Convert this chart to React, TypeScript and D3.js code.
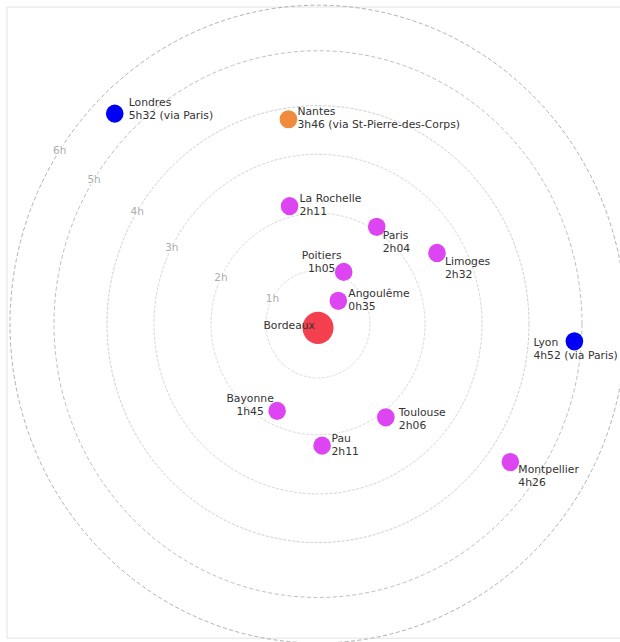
import React, { useEffect } from "react";
import * as d3 from "d3";

// ---- Data ----
const cities = [
  "Angoulême", "Poitiers", "La Rochelle", "Paris", "Limoges", "Nantes",
  "Londres", "Lyon", "Montpellier", "Bayonne", "Pau", "Toulouse",
];
const durations = [
  "0h35", "1h05", "2h11", "2h04", "2h32", "3h46",
  "5h32", "4h52", "4h26", "1h45", "2h11", "2h06",
];
const routes = [
  "", "", "", "", "", "via St-Pierre-des-Corps",
  "via Paris", "via Paris", "", "", "", "",
];
// direction from Bordeaux, degrees clockwise from east (screen)
const bearings = [-48, -63, -104, -58, -30, -98.5, -135, 3.7, 34.7, 116, 88, 53];
const origin = "Bordeaux";
const hourTicks = [1, 2, 3, 4, 5, 6];
const routeTypes = ["", "via St-Pierre-des-Corps", "via Paris"];

// ---- Layout (not data) ----
const W = 620;
const H = 620; // design space, stretched to 642 on screen
const SCREEN_H = 642;
const CX = 318;
const CY = 313;
const ORIGIN_DOT_DY = 3.6;
const ringRange = [0, 52, 107, 164, 211, 264, 308];
const ringLabelAngles = [29, 25, 27, 31, 32, 33];
const ringStrokes = ["#dcdcdc", "#dadada", "#d4d4d4", "#cdcdcd", "#bdbdbd", "#b0b0b0"];
// [dx, dy of first line center, anchor]
const labelLayout: [number, number, string][] = [
  [10, -7.4, "start"],
  [-22, -15.5, "middle"],
  [10, -7, "start"],
  [6, 8.1, "start"],
  [8, 8.1, "start"],
  [9, -7.4, "start"],
  [14, -11.2, "start"],
  [-41, 1.3, "start"],
  [8, 7.5, "start"],
  [-27, -12.2, "middle"],
  [9.4, -7.4, "start"],
  [13, -4.4, "start"],
];
const LINE_GAP = 12.6;
const FONT = "'DejaVu Sans', sans-serif";

function parseDuration(s: string): number {
  const [h, m] = s.split("h").map(Number);
  return h + m / 60;
}

export default function App() {
  useEffect(() => {
    document.body.style.margin = "0";
  }, []);

  const radius = d3.scaleLinear().domain(d3.range(0, 7)).range(ringRange);
  const color = d3
    .scaleOrdinal<string, string>()
    .domain(routeTypes)
    .range(["#dd45f2", "#f08b3d", "#0000f4"]);

  const points = cities.map((name, i) => {
    const hours = parseDuration(durations[i]);
    const a = (bearings[i] * Math.PI) / 180;
    const rr = radius(hours);
    return {
      name,
      label2: routes[i] ? `${durations[i]} (${routes[i]})` : durations[i],
      x: CX + rr * Math.cos(a),
      y: CY + rr * Math.sin(a),
      color: color(routes[i]),
      layout: labelLayout[i],
    };
  });

  return (
    <div style={{ position: "absolute", left: 0, top: 0 }}>
      <svg
        width={W}
        height={SCREEN_H}
        viewBox={`0 0 ${W} ${H}`}
        preserveAspectRatio="none"
        style={{ display: "block", background: "#fff" }}
      >
        <rect
          x={7}
          y={6.8}
          width={640}
          height={609.5}
          fill="#fff"
          stroke="#e2e2e2"
          strokeWidth={1}
          vectorEffect="non-scaling-stroke"
        />
        {hourTicks.map((h, i) => (
          <circle
            key={`ring${h}`}
            cx={CX}
            cy={CY}
            r={radius(h)}
            fill="none"
            stroke={ringStrokes[i]}
            strokeWidth={1}
            strokeDasharray={i >= 4 ? "4,2.5" : "3,1.5"}
            vectorEffect="non-scaling-stroke"
          />
        ))}
        {hourTicks.map((h, i) => {
          const a = ((180 + ringLabelAngles[i]) * Math.PI) / 180;
          return (
            <text
              key={`rl${h}`}
              x={CX + radius(h) * Math.cos(a)}
              y={CY + radius(h) * Math.sin(a)}
              textAnchor="middle"
              dominantBaseline="central"
              fontFamily={FONT}
              fontSize={10.5}
              fill="#ababab"
              stroke="#fff"
              strokeWidth={3}
              paintOrder="stroke"
            >
              {`${h}h`}
            </text>
          );
        })}
        <circle cx={CX} cy={CY + ORIGIN_DOT_DY} r={15.5} fill="#f4404e" />
        {points.map((p) => (
          <circle key={`dot${p.name}`} cx={p.x} cy={p.y} r={8.8} fill={p.color} />
        ))}
        <text
          x={CX - 3}
          y={CY + 1}
          textAnchor="end"
          dominantBaseline="central"
          fontFamily={FONT}
          fontSize={10.8}
          fill="#333"
        >
          {origin}
        </text>
        {points.map((p) => (
          <g key={`lab${p.name}`} fontFamily={FONT} fontSize={10.8} fill="#333">
            <text
              x={p.x + p.layout[0]}
              y={p.y + p.layout[1]}
              textAnchor={p.layout[2]}
              dominantBaseline="central"
            >
              {p.name}
            </text>
            <text
              x={p.x + p.layout[0]}
              y={p.y + p.layout[1] + LINE_GAP}
              textAnchor={p.layout[2]}
              dominantBaseline="central"
            >
              {p.label2}
            </text>
          </g>
        ))}
      </svg>
    </div>
  );
}
